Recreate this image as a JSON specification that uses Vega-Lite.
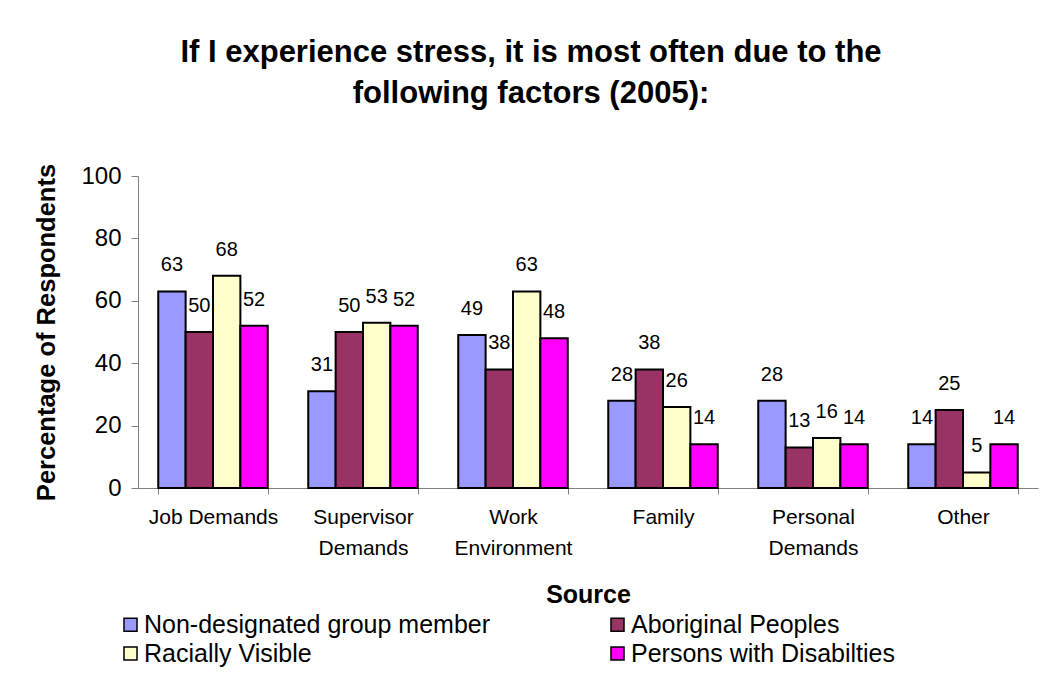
{
  "$schema": "https://vega.github.io/schema/vega-lite/v6.json",
  "width": 900,
  "height": 312,
  "autosize": {"type": "none"},
  "padding": {"left": 138, "top": 176, "right": 16, "bottom": 204},
  "background": "white",
  "config": {
    "font": "Liberation Sans",
    "view": {"stroke": null},
    "axis": {"labelColor": "black", "titleColor": "black", "grid": false}
  },
  "title": {
    "text": ["If I experience stress, it is most often due to the", "following factors (2005):"],
    "fontSize": 31,
    "fontWeight": "bold",
    "font": "Liberation Sans",
    "lineHeight": 41,
    "anchor": "middle",
    "frame": "group",
    "baseline": "bottom",
    "dx": -57,
    "offset": 22,
    "color": "black"
  },
  "data": {
    "values": [
      {"source": "Job Demands", "group": "Non-designated group member", "value": 63},
      {"source": "Job Demands", "group": "Aboriginal Peoples", "value": 50},
      {"source": "Job Demands", "group": "Racially Visible", "value": 68},
      {"source": "Job Demands", "group": "Persons with Disabilties", "value": 52},
      {"source": "Supervisor Demands", "group": "Non-designated group member", "value": 31},
      {"source": "Supervisor Demands", "group": "Aboriginal Peoples", "value": 50},
      {"source": "Supervisor Demands", "group": "Racially Visible", "value": 53},
      {"source": "Supervisor Demands", "group": "Persons with Disabilties", "value": 52},
      {"source": "Work Environment", "group": "Non-designated group member", "value": 49},
      {"source": "Work Environment", "group": "Aboriginal Peoples", "value": 38},
      {"source": "Work Environment", "group": "Racially Visible", "value": 63},
      {"source": "Work Environment", "group": "Persons with Disabilties", "value": 48},
      {"source": "Family", "group": "Non-designated group member", "value": 28},
      {"source": "Family", "group": "Aboriginal Peoples", "value": 38},
      {"source": "Family", "group": "Racially Visible", "value": 26},
      {"source": "Family", "group": "Persons with Disabilties", "value": 14},
      {"source": "Personal Demands", "group": "Non-designated group member", "value": 28},
      {"source": "Personal Demands", "group": "Aboriginal Peoples", "value": 13},
      {"source": "Personal Demands", "group": "Racially Visible", "value": 16},
      {"source": "Personal Demands", "group": "Persons with Disabilties", "value": 14},
      {"source": "Other", "group": "Non-designated group member", "value": 14},
      {"source": "Other", "group": "Aboriginal Peoples", "value": 25},
      {"source": "Other", "group": "Racially Visible", "value": 5},
      {"source": "Other", "group": "Persons with Disabilties", "value": 14}
    ]
  },
  "encoding": {
    "x": {
      "field": "source",
      "type": "nominal",
      "sort": ["Job Demands", "Supervisor Demands", "Work Environment", "Family", "Personal Demands", "Other"],
      "scale": {"paddingInner": 0.27, "paddingOuter": 0.135},
      "axis": {
        "title": "Source",
        "titleFontSize": 25,
        "titleFontWeight": "bold",
        "titlePadding": 24,
        "labelAngle": 0,
        "labelFontSize": 21,
        "labelLineHeight": 31,
        "labelPadding": 12,
        "labelExpr": "datum.label == 'Job Demands' || datum.label == 'Family' || datum.label == 'Other' ? datum.label : split(datum.label, ' ')",
        "tickBand": "extent",
        "tickSize": 6,
        "domainColor": "#808080",
        "tickColor": "#808080",
        "labelLimit": 300
      }
    },
    "xOffset": {
      "field": "group",
      "type": "nominal",
      "sort": ["Non-designated group member", "Aboriginal Peoples", "Racially Visible", "Persons with Disabilties"],
      "scale": {"paddingInner": 0, "paddingOuter": 0}
    },
    "y": {
      "field": "value",
      "type": "quantitative",
      "scale": {"domain": [0, 100], "nice": false},
      "axis": {
        "title": "Percentage of Respondents",
        "titleFontSize": 25.5,
        "titleFontWeight": "bold",
        "titlePadding": 21,
        "values": [0, 20, 40, 60, 80, 100],
        "labelFontSize": 24,
        "labelPadding": 10,
        "tickSize": 7,
        "domainColor": "#808080",
        "tickColor": "#808080"
      }
    }
  },
  "layer": [
    {
      "mark": {"type": "bar", "stroke": "black", "strokeWidth": 2},
      "encoding": {
        "color": {
          "field": "group",
          "type": "nominal",
          "sort": ["Non-designated group member", "Aboriginal Peoples", "Racially Visible", "Persons with Disabilties"],
          "scale": {
            "domain": ["Non-designated group member", "Aboriginal Peoples", "Racially Visible", "Persons with Disabilties"],
            "range": ["#9999FF", "#993366", "#FFFFCC", "#FF00FF"]
          },
          "legend": {
            "title": null,
            "orient": "none",
            "direction": "horizontal",
            "legendX": -20,
            "legendY": 436,
            "columns": 2,
            "columnPadding": 114,
            "rowPadding": 3,
            "symbolType": "square",
            "symbolSize": 170,
            "symbolStrokeColor": "black",
            "symbolStrokeWidth": 1.5,
            "symbolOpacity": 1,
            "labelFontSize": 25,
            "labelColor": "black",
            "labelOffset": 1,
            "labelLimit": 500
          }
        }
      }
    },
    {
      "mark": {"type": "text", "fontSize": 20, "baseline": "alphabetic", "dy": -20, "color": "black"},
      "encoding": {"text": {"field": "value", "type": "quantitative"}}
    }
  ]
}
